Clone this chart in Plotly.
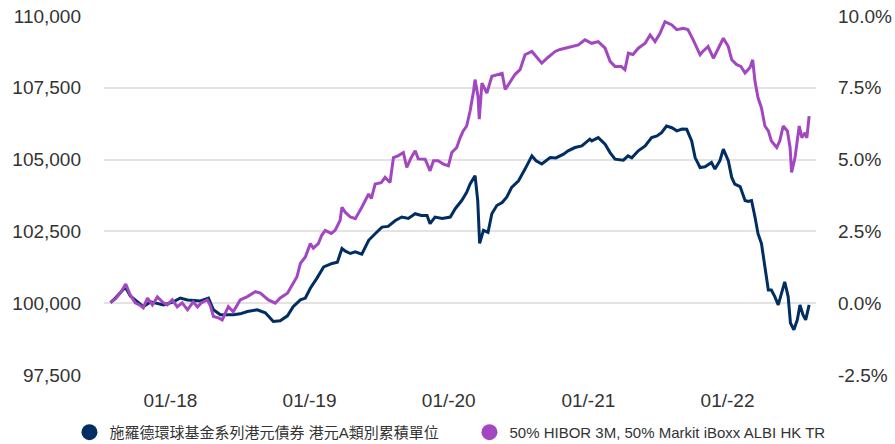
import plotly.graph_objects as go

FUND_NAME = "施羅德環球基金系列港元債券 港元A類別累積單位"
BENCH_NAME = "50% HIBOR 3M, 50% Markit iBoxx ALBI HK TR"

fund_dates = [
    "2017-07-28", "2017-08-10", "2017-09-05", "2017-09-18", "2017-10-22", "2017-11-10", "2017-12-14",
    "2018-01-09", "2018-01-27", "2018-02-15", "2018-03-21", "2018-04-11", "2018-04-24", "2018-05-12",
    "2018-06-15", "2018-07-03", "2018-07-22", "2018-08-17", "2018-09-07", "2018-09-28", "2018-10-16",
    "2018-11-04", "2018-11-19", "2018-12-08", "2018-12-21",
    "2019-01-03", "2019-01-20", "2019-02-07", "2019-03-01", "2019-03-15", "2019-03-27", "2019-04-05",
    "2019-04-18", "2019-05-01", "2019-05-18", "2019-06-05", "2019-06-22", "2019-07-10", "2019-07-26",
    "2019-08-14", "2019-08-31", "2019-09-17", "2019-10-05", "2019-10-21", "2019-11-05", "2019-11-13",
    "2019-11-26", "2019-12-15",
    "2020-01-05", "2020-01-18", "2020-02-04", "2020-02-17", "2020-02-26", "2020-03-10", "2020-03-17",
    "2020-03-22", "2020-04-01", "2020-04-13", "2020-04-23", "2020-05-06", "2020-05-20", "2020-06-01",
    "2020-06-14", "2020-07-02", "2020-07-19", "2020-08-06", "2020-08-17", "2020-09-01", "2020-09-23",
    "2020-10-08", "2020-10-28", "2020-11-09", "2020-11-27", "2020-12-15",
    "2021-01-05", "2021-01-10", "2021-01-27", "2021-02-14", "2021-02-27", "2021-03-12", "2021-04-03",
    "2021-04-15", "2021-04-25", "2021-05-12", "2021-05-30", "2021-06-16", "2021-06-30", "2021-07-12",
    "2021-07-25", "2021-08-08", "2021-08-21", "2021-09-04", "2021-09-16", "2021-09-29", "2021-10-08",
    "2021-10-21", "2021-11-03", "2021-11-20", "2021-11-29", "2021-12-12", "2021-12-21",
    "2022-01-03", "2022-01-12", "2022-01-20", "2022-02-03", "2022-02-16", "2022-02-24", "2022-03-05",
    "2022-03-14", "2022-03-22", "2022-03-31", "2022-04-09", "2022-04-18", "2022-04-26", "2022-05-05",
    "2022-05-14", "2022-05-23", "2022-05-31", "2022-06-09", "2022-06-15", "2022-06-24", "2022-07-03",
    "2022-07-10", "2022-07-18", "2022-07-25", "2022-08-03",
]
fund_values = [
    100020, 100180, 100560, 100250, 99880, 100045, 99940,
    100045, 100180, 100115, 100080, 100180, 99770, 99595,
    99595, 99630, 99710, 99770, 99665, 99365, 99390,
    99560, 99880, 100115, 100180,
    100520, 100865, 101265, 101385, 101430, 101905, 101810,
    101730, 101785, 101705, 102190, 102420, 102650, 102675,
    102880, 103000, 102950, 103115, 103055, 103055, 102770,
    103000, 102950,
    103000, 103290, 103575, 103860, 104150, 104440, 103575,
    102085, 102535, 102465, 103115, 103400, 103505, 103690,
    104035, 104265, 104670, 105130, 104960, 104845, 105070,
    105060, 105190, 105305, 105420, 105475,
    105710, 105650, 105765, 105535, 105245, 105015, 104980,
    105130, 105060, 105305, 105475, 105765, 105825, 105935,
    106170, 106110, 106000, 106065, 106055, 105650, 105070,
    104725, 104750, 104900, 104670, 104960, 105365,
    104960, 104380, 104150, 104060, 103575, 103540, 103575,
    103000, 102420, 102075, 101265, 100460, 100460, 100230,
    99940, 100345, 100745, 100230, 99310, 99075, 99420,
    99940, 99595, 99420, 99940,
]

bench_dates = [
    "2017-07-28", "2017-08-10", "2017-08-23", "2017-09-06", "2017-09-18", "2017-10-01", "2017-10-12",
    "2017-10-22", "2017-11-02", "2017-11-15", "2017-11-28", "2017-12-11", "2017-12-24",
    "2018-01-06", "2018-01-19", "2018-02-01", "2018-02-15", "2018-03-02", "2018-03-13", "2018-03-23",
    "2018-04-08", "2018-04-16", "2018-04-24", "2018-05-07", "2018-05-17", "2018-06-02", "2018-06-15",
    "2018-07-03", "2018-07-22", "2018-08-12", "2018-08-25", "2018-09-15", "2018-10-03", "2018-10-16",
    "2018-11-04", "2018-11-16", "2018-11-29", "2018-12-08", "2018-12-21",
    "2019-01-03", "2019-01-11", "2019-01-24", "2019-02-02", "2019-02-11", "2019-02-27", "2019-03-09",
    "2019-03-22", "2019-03-27", "2019-04-05", "2019-04-18", "2019-05-01", "2019-05-18", "2019-05-30",
    "2019-06-05", "2019-06-12", "2019-06-22", "2019-07-08", "2019-07-18", "2019-07-31", "2019-08-09",
    "2019-08-21", "2019-09-04", "2019-09-13", "2019-09-24", "2019-10-05", "2019-10-13", "2019-10-31",
    "2019-11-13", "2019-11-22", "2019-12-04", "2019-12-18", "2019-12-31",
    "2020-01-09", "2020-01-22", "2020-01-31", "2020-02-08", "2020-02-17", "2020-02-26", "2020-03-06",
    "2020-03-10", "2020-03-18", "2020-03-21", "2020-03-28", "2020-04-10", "2020-04-23", "2020-05-10",
    "2020-05-20", "2020-05-28", "2020-06-10", "2020-06-23", "2020-07-06", "2020-07-19", "2020-08-06",
    "2020-08-17", "2020-09-01", "2020-09-17", "2020-10-06", "2020-10-19", "2020-11-01", "2020-11-19",
    "2020-12-06", "2020-12-23",
    "2021-01-10", "2021-01-27", "2021-02-14", "2021-02-27", "2021-03-12", "2021-03-28", "2021-04-07",
    "2021-04-16", "2021-04-28", "2021-05-12", "2021-05-30", "2021-06-12", "2021-06-25", "2021-07-08",
    "2021-07-21", "2021-08-08", "2021-08-21", "2021-09-07", "2021-09-19", "2021-10-03", "2021-10-21",
    "2021-10-28", "2021-11-11", "2021-11-25", "2021-12-04", "2021-12-21",
    "2022-01-03", "2022-01-12", "2022-01-25", "2022-02-05", "2022-02-16", "2022-03-01", "2022-03-08",
    "2022-03-14", "2022-03-22", "2022-03-31", "2022-04-09", "2022-04-18", "2022-04-26", "2022-05-10",
    "2022-05-18", "2022-05-27", "2022-06-07", "2022-06-14", "2022-06-18", "2022-06-27", "2022-07-08",
    "2022-07-15", "2022-07-23", "2022-07-28", "2022-08-03",
]
bench_values = [
    100020, 100150, 100355, 100670, 100285, 100010, 99940,
    99840, 100180, 99940, 100220, 100045, 99940,
    100115, 99870, 100010, 99770, 100045, 99870, 100010,
    100115, 99905, 99535, 99490, 99420, 99880, 99700,
    100115, 100230, 100400, 100355, 100115, 100000, 100180,
    100345, 100635, 100920, 101385, 101610,
    102075, 101915, 102075, 102365, 102535, 102430, 102535,
    102880, 103340, 103160, 103000, 102940, 103340, 103680,
    103805, 103645, 104150, 104195, 104380, 104205, 105070,
    105130, 105245, 104725, 105060, 105305, 105025, 105015,
    104610, 104960, 104960, 104845, 104785,
    105245, 105420, 105765, 106000, 106170, 106690, 107380,
    107785, 107175, 106410, 107665, 107320, 107900, 107960,
    108005, 107440, 107725, 107970, 108130, 108650, 108765,
    108590, 108360, 108555, 108765, 108835, 108880, 108935,
    108995, 109170,
    109050, 109110, 108880, 108420, 108245, 108245, 108130,
    108705, 108660, 108880, 109050, 109340, 109110, 109395,
    109800, 109690, 109525, 109570, 109525, 109170, 108650,
    108765, 108935, 108530, 108765, 109225,
    108935, 108475, 108305, 108245, 108015, 108210, 108475,
    107725, 107150, 106800, 106170, 106000, 105650, 105420,
    105650, 106170, 105995, 105420, 104555, 105070, 106170,
    105765, 105935, 105755, 106515,
]

x_tick_dates = ["2018-01-01", "2019-01-01", "2020-01-01", "2021-01-01", "2022-01-01"]
x_tick_text = ["01/-18", "01/-19", "01/-20", "01/-21", "01/-22"]
y_left_ticks = [97500, 100000, 102500, 105000, 107500, 110000]
y_left_text = ["97,500", "100,000", "102,500", "105,000", "107,500", "110,000"]
y_right_ticks = [-2.5, 0.0, 2.5, 5.0, 7.5, 10.0]
y_right_text = ["-2.5%", "0.0%", "2.5%", "5.0%", "7.5%", "10.0%"]

NAVY = "#002D62"
PURPLE = "#A347C0"
TEXT = "#333333"
FONT = "Arial, 'Liberation Sans', 'Noto Sans CJK TC', sans-serif"

fig = go.Figure()
fig.add_trace(go.Scatter(x=fund_dates, y=fund_values, mode="lines",
                         line=dict(color=NAVY, width=3), showlegend=False, name=FUND_NAME))
fig.add_trace(go.Scatter(x=bench_dates, y=bench_values, mode="lines",
                         line=dict(color=PURPLE, width=3), showlegend=False, name=BENCH_NAME))
# legend entries drawn as circles
fig.add_trace(go.Scatter(x=[None], y=[None], mode="markers", name=FUND_NAME,
                         marker=dict(color=NAVY, size=16, symbol="circle")))
fig.add_trace(go.Scatter(x=[None], y=[None], mode="markers", name=BENCH_NAME,
                         marker=dict(color=PURPLE, size=16, symbol="circle")))
fig.add_trace(go.Scatter(x=[None], y=[None], yaxis="y2", showlegend=False, hoverinfo="skip"))

fig.update_layout(
    width=895, height=444,
    margin=dict(l=104, r=79, t=16, b=69, autoexpand=False),
    paper_bgcolor="white", plot_bgcolor="white",
    font=dict(family=FONT, color=TEXT, size=19),
    showlegend=True,
    legend=dict(orientation="h", x=-0.0485, xanchor="left", y=-0.114, yanchor="top",
                font=dict(size=15, color=TEXT), itemsizing="trace", entrywidth=355),
    xaxis=dict(
        range=["2017-07-11", "2022-08-21"],
        tickvals=x_tick_dates, ticktext=x_tick_text,
        showgrid=False, showline=False, zeroline=False, ticks="",
        ticklabelstandoff=12, automargin=False, ticklabeloverflow="allow",
    ),
    yaxis=dict(
        range=[97500, 110000], tickvals=y_left_ticks, ticktext=y_left_text,
        showgrid=True, gridcolor="#e3e3e3", gridwidth=2,
        zeroline=False, showline=False, ticks="", ticklabelstandoff=22, automargin=False,
        ticklabeloverflow="allow",
    ),
    yaxis2=dict(
        range=[-2.5, 10.0], tickvals=y_right_ticks, ticktext=y_right_text,
        overlaying="y", side="right", showgrid=False, zeroline=False, showline=False,
        ticks="", ticklabelstandoff=21, automargin=False, ticklabeloverflow="allow",
    ),
)

# remove the browser's default 8px page margin so the figure fills the 895x444 window
fig.write_html("out.html",
               config={"displayModeBar": False},
               post_script="document.body.style.margin='0';document.body.style.overflow='hidden';")
